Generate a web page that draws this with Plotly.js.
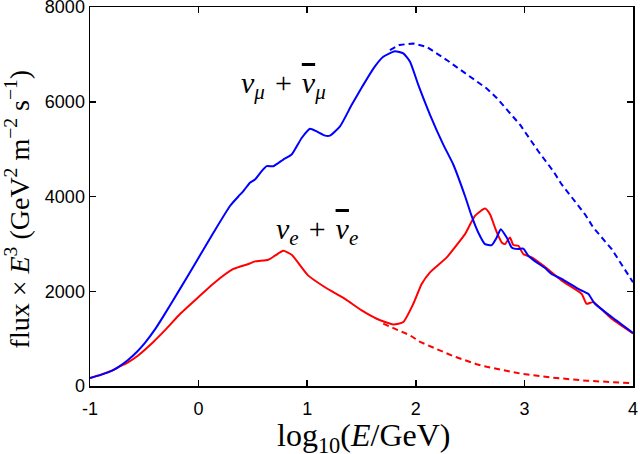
<!DOCTYPE html>
<html>
<head>
<meta charset="utf-8">
<script src="https://cdn.plot.ly/plotly-3.0.1.min.js"></script>
<style>html,body{margin:0;padding:0;background:#fff;}</style>
</head>
<body>
<div id="chart" style="width:640px;height:454px;"></div>
<script>
// nu_mu + anti-nu_mu (solid)
const numuX = [-1, -0.9, -0.8, -0.74, -0.65, -0.56, -0.494, -0.40, -0.325, -0.171, -0.0175, 0.135, 0.289, 0.366, 0.412, 0.473, 0.519, 0.581, 0.627, 0.688, 0.78, 0.857, 0.949, 1.026, 1.087, 1.164, 1.21, 1.302, 1.41, 1.51, 1.609, 1.70, 1.808, 1.885, 1.947, 2.023, 2.131, 2.253, 2.345, 2.453, 2.514, 2.575, 2.637, 2.699, 2.745, 2.782, 2.837, 2.883, 2.944, 2.99, 3.036, 3.113, 3.19, 3.25, 3.343, 3.496, 3.558, 3.588, 3.65, 3.804, 4.0];
const numuY = [170, 235, 320, 400, 550, 740, 910, 1200, 1470, 2050, 2640, 3230, 3800, 4000, 4115, 4290, 4360, 4535, 4640, 4640, 4780, 4885, 5235, 5430, 5375, 5285, 5285, 5480, 5935, 6330, 6700, 6950, 7065, 7020, 6845, 6355, 5725, 5095, 4675, 4010, 3590, 3240, 2995, 2975, 3135, 3310, 3135, 2925, 2890, 2900, 2750, 2610, 2490, 2365, 2260, 2050, 1980, 1945, 1735, 1455, 1120];
// nu_mu without oscillation (dashed)
const numuNoX = [1.762, 1.85, 1.977, 2.10, 2.285, 2.50, 2.653, 2.745, 2.96, 3.128, 3.266, 3.343, 3.558, 3.634, 3.804, 4.0];
const numuNoY = [7090, 7200, 7230, 7160, 6880, 6520, 6280, 6080, 5515, 4955, 4535, 4255, 3625, 3345, 2890, 2190];
// nu_e + anti-nu_e (solid)
const nueX = [-1, -0.9, -0.8, -0.74, -0.65, -0.56, -0.417, -0.3, -0.171, 0.0, 0.135, 0.32, 0.458, 0.519, 0.642, 0.703, 0.78, 0.857, 1.01, 1.164, 1.348, 1.502, 1.64, 1.793, 1.885, 1.977, 2.054, 2.131, 2.285, 2.407, 2.453, 2.545, 2.637, 2.683, 2.729, 2.76, 2.791, 2.821, 2.867, 2.898, 2.944, 2.99, 3.067, 3.174, 3.343, 3.527, 3.573, 3.634, 3.804, 4.0];
const nueY = [170, 240, 325, 395, 500, 640, 930, 1200, 1520, 1880, 2160, 2470, 2575, 2630, 2665, 2750, 2855, 2770, 2330, 2085, 1840, 1595, 1420, 1300, 1350, 1735, 2155, 2400, 2715, 3065, 3205, 3590, 3745, 3625, 3345, 3170, 3030, 2995, 3135, 2975, 2960, 2785, 2715, 2540, 2225, 1945, 1735, 1770, 1420, 1110];
// nu_e without oscillation (dashed)
const nueNoX = [1.70, 1.85, 1.947, 2.04, 2.253, 2.345, 2.56, 2.653, 2.96, 3.266, 3.573, 4.0];
const nueNoY = [1315, 1170, 1070, 930, 720, 630, 460, 405, 265, 175, 112, 57];

const xTickVals = [-1, 0, 1, 2, 3, 4];
const xTickText = ['-1', '0', '1', '2', '3', '4'];
const yTickVals = [0, 2000, 4000, 6000, 8000];
const yTickText = ['0', '2000', '4000', '6000', '8000'];

const sp = '\u2004';
const bar = '<span style="text-decoration:overline"><i>ν</i></span>';
const labelMu = '<i>ν</i><sub><i>μ</i></sub>' + sp + '+' + sp + bar + '<sub><i>μ</i></sub>';
const labelE = '<i>ν</i><sub><i>e</i></sub>' + sp + '+' + sp + bar + '<sub><i>e</i></sub>';

const blue = '#0000ff', red = '#ff0000';
const traces = [
  {x: numuNoX, y: numuNoY, mode: 'lines', line: {color: blue, width: 2, dash: '6px,4px'}},
  {x: nueNoX, y: nueNoY, mode: 'lines', line: {color: red, width: 2, dash: '6px,4px'}},
  {x: nueX, y: nueY, mode: 'lines', line: {color: red, width: 2, shape: 'spline', smoothing: 0.5}},
  {x: numuX, y: numuY, mode: 'lines', line: {color: blue, width: 2, shape: 'spline', smoothing: 0.5}}
];
const serif = 'Liberation Serif, Times New Roman, serif';
const axisCommon = {
  showline: true, linecolor: '#000', linewidth: 1.5, mirror: 'ticks',
  ticks: 'inside', ticklen: 6, tickwidth: 1.5, tickcolor: '#000',
  showgrid: false, zeroline: false, tickmode: 'array', ticklabeloverflow: 'allow',
  tickfont: {family: 'Liberation Sans, Arial, sans-serif', size: 18, color: '#000'}
};
const layout = {
  width: 640, height: 454,
  margin: {l: 90, r: 7, t: 7, b: 68},
  paper_bgcolor: '#fff', plot_bgcolor: '#fff',
  showlegend: false,
  xaxis: Object.assign({}, axisCommon, {range: [-1, 4], tickvals: xTickVals, ticktext: xTickText, ticklabelstandoff: 6}),
  yaxis: Object.assign({}, axisCommon, {range: [0, 8000], tickvals: yTickVals, ticktext: yTickText}),
  annotations: [
    {x: 0.786, y: 6360, xref: 'x', yref: 'y', text: labelMu, showarrow: false,
     font: {family: serif, size: 30, color: '#000'}},
    {x: 1.09, y: 3275, xref: 'x', yref: 'y', text: labelE, showarrow: false,
     font: {family: serif, size: 30, color: '#000'}},
    {x: 0.504, y: -0.137, xref: 'paper', yref: 'paper', text: 'log<sub>10</sub>(<i>E</i>/GeV)',
     showarrow: false, yanchor: 'middle', font: {family: serif, size: 32, color: '#000'}},
    {x: -0.133, y: 0.468, xref: 'paper', yref: 'paper', textangle: -90,
     text: 'flux × <i>E</i><sup>3</sup> (GeV<sup>2</sup> m<sup>−2</sup> s<sup>−1</sup>)',
     showarrow: false, xanchor: 'center', yanchor: 'middle', font: {family: serif, size: 28, color: '#000'}}
  ]
};
Plotly.newPlot('chart', traces, layout, {staticPlot: true, displayModeBar: false});
</script>
</body>
</html>
